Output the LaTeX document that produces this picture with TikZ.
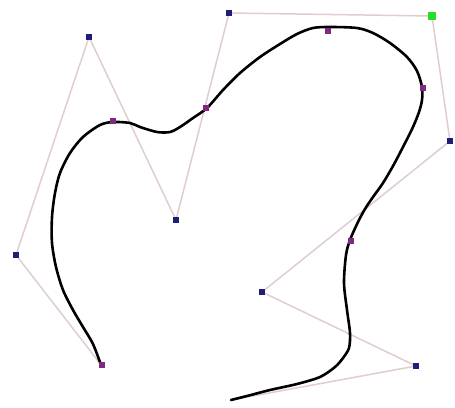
\documentclass[tikz,border=0pt]{standalone}
\begin{document}
\begin{tikzpicture}[x=1pt,y=-1pt,
  ctrl/.style={fill=ctrlblue,draw=none,minimum size=6pt,inner sep=0pt,rectangle},
  sel/.style={fill=selgreen,draw=none,minimum size=8pt,inner sep=0pt,rectangle},
  knot/.style={fill=knotpurple,draw=none,minimum size=5.5pt,inner sep=0pt,rectangle},
  poly/.style={draw=polypink,line width=1.5pt},
  curve/.style={draw=black,line width=2.6pt,line join=round,line cap=round}]
\definecolor{ctrlblue}{RGB}{30,30,120}
\definecolor{selgreen}{RGB}{40,220,40}
\definecolor{knotpurple}{RGB}{130,40,130}
\definecolor{polypink}{RGB}{224,206,206}
\useasboundingbox[fill=white] (0,0) rectangle (455,407);
% control points
\coordinate (c0) at (102,366);
\coordinate (c1) at (16,255);
\coordinate (c2) at (89,37);
\coordinate (c3) at (176,220);
\coordinate (c4) at (229,13);
\coordinate (c5) at (432,16);
\coordinate (c6) at (450,141);
\coordinate (c7) at (262,292);
\coordinate (c8) at (416,366);
\coordinate (c9) at (231,400);
% control polygon
\draw[poly] (c0) -- (c1) -- (c2) -- (c3) -- (c4) -- (c5) -- (c6) -- (c7) -- (c8) -- (c9);
% curve
\draw[curve] plot[smooth,tension=0.5] coordinates {
(101,365) (93,344) (83,327) (73,310) (63,290) (56,267) (52,243) (52,217) (55,193) (60,173) (70,153) (83,137) (100,125) (113,122) (130,123) (140,127) (157,132) (170,132) (180,127) (193,118) (207,108) (223,90) (240,73) (260,57) (280,44) (297,34) (313,28) (330,27) (357,28) (373,33) (390,43) (407,57) (417,71) (422,87) (422,100) (419,112) (413,127) (403,147) (393,166) (383,183) (373,197) (365,209) (358,222) (350,240) (346,255) (344,283) (347,310) (350,333) (349,348) (343,358) (335,367) (320,377) (297,384) (270,390) (247,396) (231,400)};
% markers
\node[ctrl] (p1) at (c1) {};
\node[ctrl] (p2) at (c2) {};
\node[ctrl] (p3) at (c3) {};
\node[ctrl] (p4) at (c4) {};
\node[sel]  (p5) at (c5) {};
\node[ctrl] (p6) at (c6) {};
\node[ctrl] (p7) at (c7) {};
\node[ctrl] (p8) at (c8) {};
\node[knot] (p0) at (102,365) {};
\node[knot] (k1) at (113,121) {};
\node[knot] (k2) at (206,108) {};
\node[knot] (k3) at (328,31) {};
\node[knot] (k4) at (423,88) {};
\node[knot] (k5) at (351,241) {};
\end{tikzpicture}
\end{document}
